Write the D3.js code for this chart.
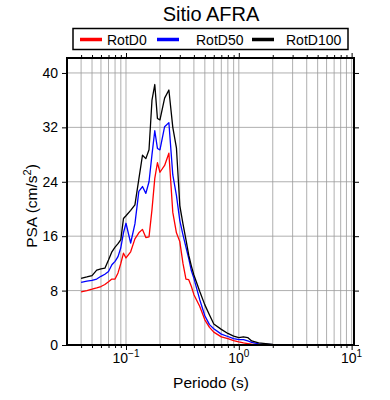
<!DOCTYPE html>
<html>
<head>
<meta charset="utf-8">
<script src="https://cdn.jsdelivr.net/npm/d3@7"></script>
<style>
  body { margin: 0; background: #fff; }
  svg { font-family: "Liberation Sans", Arial, Helvetica, sans-serif; }
</style>
</head>
<body>
<svg id="chart" width="390" height="400"></svg>
<script>
const periods = [0.04, 0.045, 0.05, 0.055, 0.06, 0.065, 0.07, 0.075, 0.08, 0.085, 0.09, 0.095,
  0.1, 0.11, 0.12, 0.13, 0.14, 0.15, 0.16, 0.17, 0.18, 0.19, 0.2, 0.22, 0.24, 0.26, 0.28,
  0.3, 0.32, 0.34, 0.36, 0.38, 0.4, 0.45, 0.5, 0.55, 0.6, 0.7, 0.8, 0.9, 1.0, 1.1, 1.2,
  1.3, 1.5, 2, 2.5, 3, 4, 5, 7, 10];

const rotD0 = [7.8, 8.0, 8.2, 8.4, 8.6, 8.9, 9.3, 9.7, 9.7, 10.6, 12.0, 13.5,
  12.8, 13.7, 15.6, 16.5, 17.0, 15.8, 15.9, 19.9, 24.5, 26.8, 25.4, 26.4, 28.2, 19.5, 16.5,
  15.2, 12.0, 9.7, 9.6, 8.6, 7.4, 5.7, 3.7, 2.6, 1.9, 1.2, 0.95, 0.65, 0.45, 0.3, 0.2,
  0.12, 0.05, 0.02, 0.01, 0.01, 0, 0, 0, 0];

const rotD50 = [9.2, 9.4, 9.5, 9.7, 10.1, 10.4, 10.8, 11.8, 12.3, 13.0, 14.3, 16.5,
  17.9, 15.0, 17.8, 22.6, 23.3, 22.3, 24.0, 28.0, 31.5, 28.9, 28.7, 32.1, 32.7, 25.0, 22.0,
  18.3, 16.2, 14.4, 12.7, 10.9, 9.8, 6.7, 4.3, 3.0, 2.4, 1.6, 1.25, 0.95, 0.8, 0.8, 0.6,
  0.4, 0.17, 0.05, 0.03, 0.02, 0.01, 0, 0, 0];

const rotD100 = [9.8, 10.0, 10.2, 11.0, 11.2, 11.3, 12.5, 13.7, 14.4, 14.9, 15.5, 18.6,
  19.0, 19.8, 20.6, 24.4, 27.9, 27.4, 28.7, 36.0, 38.3, 33.3, 33.1, 36.3, 37.5, 32.0, 29.0,
  20.5, 17.8, 15.5, 13.2, 11.6, 10.3, 7.9, 5.9, 4.4, 3.1, 2.3, 1.7, 1.3, 1.1, 1.2, 1.1,
  0.6, 0.3, 0.08, 0.03, 0.02, 0.01, 0.01, 0, 0];

const seriesNames = ["RotD0", "RotD50", "RotD100"];
const seriesColors = ["#ff0000", "#0000ff", "#000000"];
const yTicks = [0, 8, 16, 24, 32, 40];
const xMajor = [0.1, 1, 10];
const xExponents = ["\u22121", "0", "1"];

const svg = d3.select("#chart");
const plot = {left: 67, right: 354, top: 58, bottom: 345};

const x = d3.scaleLog().domain([0.03, 10.5]).range([plot.left, plot.right]);
const y = d3.scaleLinear().domain([0, 42.2]).range([plot.bottom, plot.top]);

// minor grid positions 0.04 ... 10
const xGrid = [];
[0.01, 0.1, 1].forEach(dec => {
  for (let k = 1; k <= 9; k++) {
    const v = +(dec * k).toPrecision(3);
    if (v >= 0.04) xGrid.push(v);
  }
});
xGrid.push(10);

// grid
svg.append("g")
  .attr("stroke", "#9a9a9a")
  .attr("stroke-width", 0.8)
  .selectAll("line")
  .data(xGrid)
  .join("line")
    .attr("x1", d => x(d)).attr("x2", d => x(d))
    .attr("y1", plot.top).attr("y2", plot.bottom);

svg.append("g")
  .attr("stroke", "#9a9a9a")
  .attr("stroke-width", 0.8)
  .selectAll("line")
  .data(yTicks.filter(d => d > 0))
  .join("line")
    .attr("x1", plot.left).attr("x2", plot.right)
    .attr("y1", d => y(d)).attr("y2", d => y(d));

// axes with outward ticks
const isMajor = d => xMajor.some(m => Math.abs(m - d) < 1e-9);

svg.append("g")
  .attr("transform", `translate(0,${plot.bottom})`)
  .call(d3.axisBottom(x).tickValues(xGrid).tickFormat("").tickSizeOuter(0).tickSizeInner(3))
  .call(g => g.select(".domain").remove())
  .call(g => g.selectAll(".tick line").attr("y2", d => isMajor(d) ? 5 : 3));

svg.append("g")
  .attr("transform", `translate(0,${plot.top})`)
  .call(d3.axisTop(x).tickValues(xGrid).tickFormat("").tickSizeOuter(0).tickSizeInner(3))
  .call(g => g.select(".domain").remove())
  .call(g => g.selectAll(".tick line").attr("y2", d => isMajor(d) ? -5 : -3));

svg.append("g")
  .attr("transform", `translate(${plot.left},0)`)
  .call(d3.axisLeft(y).tickValues(yTicks).tickSize(5).tickPadding(4))
  .call(g => g.select(".domain").remove())
  .call(g => g.selectAll("text").attr("font-size", 14).attr("fill", "#000")
    .attr("font-family", "Liberation Sans, Arial, sans-serif"));

svg.append("g")
  .attr("transform", `translate(${plot.right},0)`)
  .call(d3.axisRight(y).tickValues(yTicks).tickSize(5).tickFormat(""))
  .call(g => g.select(".domain").remove());

// x tick labels 10^n
const xl = svg.append("g")
  .selectAll("text")
  .data(xMajor)
  .join("text")
    .attr("x", d => x(d))
    .attr("y", plot.bottom + 18)
    .attr("text-anchor", "middle")
    .attr("font-size", 14);
xl.append("tspan").text("10");
xl.append("tspan")
  .attr("font-size", 10)
  .attr("dy", -6)
  .text((d, i) => xExponents[i]);

// curves
const allSeries = [rotD0, rotD50, rotD100];
const line = d3.line()
  .x((d, i) => x(periods[i]))
  .y(d => y(d));

svg.append("g")
  .attr("fill", "none")
  .attr("stroke-width", 1.3)
  .attr("stroke-linejoin", "round")
  .selectAll("path")
  .data(allSeries)
  .join("path")
    .attr("stroke", (d, i) => seriesColors[i])
    .attr("d", line);

// frame
svg.append("rect")
  .attr("x", plot.left).attr("y", plot.top)
  .attr("width", plot.right - plot.left).attr("height", plot.bottom - plot.top)
  .attr("fill", "none")
  .attr("stroke", "#000")
  .attr("stroke-width", 2);

// titles
svg.append("text")
  .attr("x", 211).attr("y", 21)
  .attr("text-anchor", "middle")
  .attr("font-size", 20)
  .text("Sitio AFRA");

svg.append("text")
  .attr("x", 211).attr("y", 388)
  .attr("text-anchor", "middle")
  .attr("font-size", 15.5)
  .text("Periodo (s)");

const yl = svg.append("text")
  .attr("transform", "translate(37,206) rotate(-90)")
  .attr("text-anchor", "middle")
  .attr("font-size", 15.5);
yl.append("tspan").text("PSA (cm/s");
yl.append("tspan").attr("font-size", 11).attr("dy", -6).text("2");
yl.append("tspan").attr("dy", 6).text(")");

// legend
svg.append("rect")
  .attr("x", 73).attr("y", 28.5)
  .attr("width", 275).attr("height", 21)
  .attr("fill", "#fff")
  .attr("stroke", "#000")
  .attr("stroke-width", 1.5);

const legendLineX = [80, 157, 252];
const legendTextX = [107, 196, 286];
const lg = svg.append("g")
  .selectAll("g")
  .data(seriesNames)
  .join("g");
lg.append("line")
  .attr("x1", (d, i) => legendLineX[i])
  .attr("x2", (d, i) => legendLineX[i] + 22)
  .attr("y1", 39.5).attr("y2", 39.5)
  .attr("stroke", (d, i) => seriesColors[i])
  .attr("stroke-width", 3.5);
lg.append("text")
  .attr("x", (d, i) => legendTextX[i])
  .attr("y", 45)
  .attr("font-size", 14)
  .text(d => d);
</script>
</body>
</html>
